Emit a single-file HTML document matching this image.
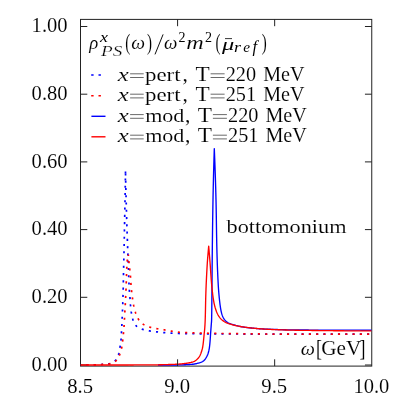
<!DOCTYPE html>
<html><head><meta charset="utf-8"><title>plot</title>
<style>
html,body{margin:0;padding:0;background:#fff;}
body{width:408px;height:408px;position:relative;overflow:hidden;font-family:"Liberation Serif",serif;}
</style></head><body>
<svg width="408" height="408" viewBox="0 0 408 408" style="position:absolute;left:0;top:0;will-change:transform">
<defs><clipPath id="c"><rect x="80.50" y="19.40" width="291.25" height="347.70"/></clipPath></defs>
<g stroke="#222" stroke-width="1" fill="none">
<rect x="80.50" y="19.40" width="291.25" height="346.70"/>
<path d="M80.50 365.00 h6.80"/>
</g>
<g fill="none" stroke-width="1.35" clip-path="url(#c)" stroke-linejoin="round">
<path d="M80.50 365.00 L81.20 365.00 L81.91 365.00 L82.61 365.00 L83.31 364.99 L84.02 364.99 L84.72 364.98 L85.42 364.98 L86.13 364.97 L86.83 364.96 L87.53 364.95 L88.24 364.94 L88.94 364.93 L89.64 364.92 L90.35 364.91 L91.05 364.90 L91.75 364.89 L92.45 364.87 L93.16 364.86 L93.86 364.85 L94.56 364.83 L95.26 364.82 L95.97 364.80 L96.67 364.78 L97.37 364.76 L98.07 364.72 L98.78 364.69 L99.48 364.65 L100.18 364.60 L100.88 364.56 L101.58 364.51 L102.28 364.45 L102.98 364.40 L103.69 364.35 L104.40 364.29 L105.12 364.24 L105.85 364.18 L106.56 364.11 L107.28 364.04 L107.98 363.96 L108.67 363.86 L109.34 363.76 L109.99 363.64 L110.63 363.49 L111.28 363.27 L111.93 362.97 L112.57 362.61 L113.20 362.21 L113.81 361.76 L114.40 361.28 L114.94 360.78 L115.44 360.28 L115.88 359.77 L116.27 359.27 L116.64 358.73 L116.98 358.14 L117.31 357.52 L117.63 356.87 L117.92 356.20 L118.19 355.51 L118.44 354.82 L118.66 354.13 L118.86 353.44 L119.03 352.77 L119.19 352.09 L119.33 351.41 L119.46 350.72 L119.58 350.03 L119.69 349.33 L119.80 348.63 L119.90 347.93 L120.00 347.23 L120.10 346.53 L120.20 345.83 L120.30 345.13 L120.40 344.44 L120.51 343.74 L120.61 343.04 L120.71 342.35 L120.80 341.65 L120.89 340.95 L120.97 340.25 L121.04 339.56 L121.10 338.86 L121.15 338.16 L121.20 337.46 L121.24 336.75 L121.28 336.05 L121.32 335.35 L121.35 334.65 L121.39 333.94 L121.42 333.24 L121.46 332.54 L121.49 331.84 L121.53 331.14 L121.57 330.43 L121.61 329.73 L121.65 329.03 L121.69 328.33 L121.73 327.63 L121.77 326.92 L121.81 326.22 L121.85 325.52 L121.88 324.82 L121.92 324.12 L121.95 323.41 L121.98 322.71 L122.01 322.01 L122.04 321.31 L122.07 320.60 L122.10 319.90 L122.12 319.20 L122.15 318.50 L122.18 317.79 L122.21 317.09 L122.24 316.39 L122.27 315.69 L122.30 314.98 L122.32 314.28 L122.35 313.58 L122.38 312.88 L122.41 312.17 L122.44 311.47 L122.47 310.77 L122.50 310.07 L122.53 309.36 L122.56 308.66 L122.59 307.96 L122.62 307.26 L122.65 306.55 L122.68 305.85 L122.72 305.15 L122.74 304.45 L122.77 303.74 L122.80 303.04 L122.82 302.34 L122.85 301.64 L122.87 300.93 L122.89 300.23 L122.92 299.53 L122.94 298.83 L122.96 298.12 L122.98 297.42 L123.00 296.72 L123.02 296.02 L123.04 295.31 L123.06 294.61 L123.08 293.91 L123.10 293.20 L123.11 292.50 L123.13 291.80 L123.15 291.10 L123.17 290.39 L123.18 289.69 L123.20 288.99 L123.22 288.28 L123.23 287.58 L123.25 286.88 L123.26 286.18 L123.28 285.47 L123.29 284.77 L123.31 284.07 L123.32 283.36 L123.33 282.66 L123.35 281.96 L123.36 281.25 L123.37 280.55 L123.39 279.85 L123.40 279.15 L123.41 278.44 L123.43 277.74 L123.44 277.04 L123.45 276.33 L123.47 275.63 L123.48 274.93 L123.50 274.23 L123.51 273.52 L123.53 272.82 L123.54 272.12 L123.56 271.41 L123.57 270.71 L123.59 270.01 L123.60 269.31 L123.62 268.60 L123.64 267.90 L123.65 267.20 L123.67 266.49 L123.69 265.79 L123.70 265.09 L123.72 264.39 L123.73 263.68 L123.75 262.98 L123.77 262.28 L123.78 261.57 L123.80 260.87 L123.82 260.17 L123.83 259.47 L123.85 258.76 L123.87 258.06 L123.88 257.36 L123.90 256.65 L123.91 255.95 L123.93 255.25 L123.95 254.55 L123.96 253.84 L123.98 253.14 L123.99 252.44 L124.01 251.73 L124.02 251.03 L124.03 250.33 L124.05 249.63 L124.06 248.92 L124.08 248.22 L124.09 247.52 L124.11 246.81 L124.12 246.11 L124.14 245.41 L124.15 244.70 L124.17 244.00 L124.18 243.30 L124.19 242.60 L124.21 241.89 L124.22 241.19 L124.24 240.49 L124.25 239.78 L124.27 239.08 L124.28 238.38 L124.30 237.68 L124.31 236.97 L124.32 236.27 L124.34 235.57 L124.35 234.86 L124.37 234.16 L124.38 233.46 L124.40 232.76 L124.41 232.05 L124.42 231.35 L124.44 230.65 L124.45 229.94 L124.47 229.24 L124.48 228.54 L124.49 227.84 L124.51 227.13 L124.52 226.43 L124.54 225.73 L124.55 225.02 L124.56 224.32 L124.58 223.62 L124.59 222.91 L124.60 222.21 L124.62 221.51 L124.63 220.81 L124.65 220.10 L124.66 219.40 L124.67 218.70 L124.69 217.99 L124.70 217.29 L124.71 216.59 L124.73 215.89 L124.74 215.18 L124.75 214.48 L124.77 213.78 L124.78 213.07 L124.79 212.37 L124.81 211.67 L124.82 210.97 L124.83 210.26 L124.85 209.56 L124.86 208.86 L124.87 208.15 L124.89 207.45 L124.90 206.75 L124.91 206.04 L124.93 205.34 L124.94 204.64 L124.95 203.94 L124.96 203.23 L124.98 202.53 L124.99 201.83 L125.00 201.12 L125.01 200.42 L125.03 199.72 L125.04 199.02 L125.05 198.31 L125.07 197.61 L125.08 196.91 L125.09 196.20 L125.10 195.50 L125.12 194.80 L125.13 194.09 L125.14 193.39 L125.15 192.69 L125.16 191.99 L125.18 191.28 L125.19 190.58 L125.20 189.88 L125.21 189.17 L125.23 188.47 L125.24 187.77 L125.25 187.07 L125.26 186.36 L125.27 185.66 L125.28 184.96 L125.30 184.25 L125.31 183.55 L125.32 182.85 L125.33 182.14 L125.34 181.44 L125.35 180.74 L125.37 180.04 L125.38 179.33 L125.39 178.63 L125.40 177.93 L125.41 177.22 L125.42 176.52 L125.43 175.82 L125.45 175.11 L125.46 174.41 L125.47 173.71 L125.48 173.01 L125.49 172.30 L125.50 171.60" stroke="#0000ff" stroke-width="1.7" stroke-dasharray="2.10 5.18" stroke-dashoffset="1.46"/>
<path d="M125.50 171.60 L125.51 172.30 L125.53 173.00 L125.54 173.71 L125.55 174.41 L125.57 175.11 L125.58 175.81 L125.59 176.52 L125.61 177.22 L125.62 177.92 L125.64 178.62 L125.65 179.32 L125.66 180.03 L125.68 180.73 L125.69 181.43 L125.71 182.13 L125.72 182.84 L125.74 183.54 L125.76 184.24 L125.77 184.94 L125.79 185.64 L125.80 186.35 L125.82 187.05 L125.84 187.75 L125.85 188.45 L125.87 189.16 L125.89 189.86 L125.90 190.56 L125.92 191.26 L125.94 191.96 L125.95 192.67 L125.97 193.37 L125.99 194.07 L126.01 194.77 L126.02 195.47 L126.04 196.18 L126.06 196.88 L126.08 197.58 L126.10 198.28 L126.12 198.99 L126.13 199.69 L126.15 200.39 L126.17 201.09 L126.19 201.79 L126.21 202.50 L126.23 203.20 L126.25 203.90 L126.27 204.60 L126.29 205.30 L126.31 206.01 L126.33 206.71 L126.35 207.41 L126.37 208.11 L126.39 208.81 L126.41 209.52 L126.43 210.22 L126.45 210.92 L126.47 211.62 L126.49 212.32 L126.51 213.03 L126.53 213.73 L126.55 214.43 L126.57 215.13 L126.59 215.83 L126.62 216.54 L126.64 217.24 L126.66 217.94 L126.68 218.64 L126.70 219.34 L126.72 220.05 L126.75 220.75 L126.77 221.45 L126.79 222.15 L126.81 222.85 L126.83 223.56 L126.86 224.26 L126.88 224.96 L126.90 225.66 L126.92 226.36 L126.95 227.07 L126.97 227.77 L126.99 228.47 L127.02 229.17 L127.04 229.87 L127.06 230.58 L127.08 231.28 L127.11 231.98 L127.13 232.68 L127.15 233.38 L127.18 234.09 L127.20 234.79 L127.22 235.49 L127.25 236.19 L127.27 236.89 L127.30 237.59 L127.32 238.30 L127.34 239.00 L127.37 239.70 L127.39 240.40 L127.42 241.10 L127.44 241.81 L127.46 242.51 L127.49 243.21 L127.51 243.91 L127.54 244.61 L127.56 245.32 L127.58 246.02 L127.61 246.72 L127.63 247.42 L127.66 248.12 L127.68 248.82 L127.71 249.53 L127.73 250.23 L127.76 250.93 L127.78 251.63 L127.81 252.33 L127.83 253.04 L127.86 253.74 L127.88 254.44 L127.91 255.14 L127.93 255.84 L127.96 256.54 L127.98 257.25 L128.01 257.95 L128.04 258.65 L128.07 259.35 L128.10 260.05 L128.13 260.76 L128.16 261.46 L128.19 262.16 L128.22 262.86 L128.25 263.56 L128.28 264.26 L128.31 264.97 L128.34 265.67 L128.37 266.37 L128.40 267.07 L128.43 267.77 L128.46 268.47 L128.49 269.18 L128.51 269.88 L128.54 270.58 L128.56 271.28 L128.59 271.98 L128.61 272.69 L128.63 273.39 L128.66 274.09 L128.68 274.79 L128.70 275.49 L128.72 276.20 L128.74 276.90 L128.76 277.60 L128.79 278.30 L128.81 279.00 L128.83 279.71 L128.86 280.41 L128.88 281.11 L128.91 281.81 L128.94 282.51 L128.97 283.21 L129.00 283.92 L129.03 284.62 L129.06 285.32 L129.10 286.02 L129.14 286.72 L129.17 287.42 L129.22 288.12 L129.26 288.83 L129.30 289.53 L129.35 290.23 L129.40 290.93 L129.45 291.63 L129.50 292.33 L129.56 293.03 L129.62 293.73 L129.69 294.43 L129.75 295.13 L129.81 295.83 L129.88 296.53 L129.94 297.23 L129.99 297.92 L130.05 298.63 L130.10 299.33 L130.15 300.03 L130.19 300.73 L130.24 301.43 L130.28 302.13 L130.33 302.83 L130.38 303.53 L130.44 304.23 L130.49 304.93 L130.56 305.63 L130.62 306.33 L130.68 307.03 L130.75 307.73 L130.82 308.43 L130.90 309.13 L130.98 309.83 L131.06 310.52 L131.15 311.22 L131.24 311.91 L131.35 312.61 L131.46 313.30 L131.57 314.00 L131.70 314.69 L131.84 315.39 L131.99 316.08 L132.14 316.77 L132.31 317.45 L132.49 318.13 L132.68 318.80 L132.88 319.46 L133.10 320.13 L133.34 320.82 L133.61 321.52 L133.89 322.21 L134.20 322.88 L134.53 323.53 L134.87 324.15 L135.24 324.73 L135.63 325.26 L136.03 325.73 L136.48 326.17 L137.00 326.58 L137.56 326.98 L138.17 327.36 L138.81 327.72 L139.48 328.05 L140.16 328.37 L140.84 328.65 L141.52 328.92 L142.18 329.16 L142.83 329.37 L143.49 329.58 L144.17 329.76 L144.85 329.94 L145.54 330.11 L146.23 330.26 L146.92 330.41 L147.62 330.54 L148.31 330.68 L149.00 330.80 L149.69 330.92 L150.38 331.04 L151.08 331.15 L151.77 331.25 L152.47 331.36 L153.17 331.45 L153.86 331.55 L154.56 331.64 L155.26 331.72 L155.96 331.80 L156.65 331.87 L157.35 331.95 L158.05 332.02 L158.75 332.09 L159.45 332.16 L160.15 332.23 L160.84 332.30 L161.54 332.37 L162.24 332.44 L162.94 332.50 L163.64 332.57 L164.34 332.63 L165.04 332.70 L165.74 332.76 L166.44 332.82 L167.14 332.88 L167.85 332.94 L168.55 332.99 L169.25 333.05 L169.95 333.10 L170.65 333.15 L171.35 333.19 L172.05 333.24 L172.75 333.28 L173.46 333.32 L174.16 333.35 L174.86 333.39 L175.56 333.42 L176.26 333.44 L176.96 333.46 L177.66 333.48 L178.36 333.50 L179.07 333.51 L179.77 333.53 L180.47 333.54 L181.17 333.55 L181.87 333.56 L182.57 333.58 L183.27 333.59 L183.98 333.60 L184.68 333.61 L185.38 333.62 L186.08 333.63 L186.78 333.64 L187.49 333.66 L188.19 333.67 L188.89 333.68 L189.59 333.69 L190.29 333.70 L190.99 333.71 L191.70 333.72 L192.40 333.73 L193.10 333.73 L193.80 333.74 L194.51 333.75 L195.21 333.76 L195.91 333.77 L196.61 333.78 L197.31 333.79 L198.02 333.79 L198.72 333.80 L199.42 333.81 L200.12 333.82 L200.83 333.82 L201.53 333.83 L202.23 333.84 L202.93 333.84 L203.64 333.85 L204.34 333.86 L205.04 333.86 L205.74 333.87 L206.45 333.88 L207.15 333.88 L207.85 333.89 L208.56 333.89 L209.26 333.90 L209.96 333.90 L210.66 333.91 L211.37 333.91 L212.07 333.92 L212.77 333.92 L213.47 333.93 L214.18 333.93 L214.88 333.94 L215.58 333.94 L216.28 333.94 L216.99 333.95 L217.69 333.95 L218.39 333.95 L219.09 333.96 L219.80 333.96 L220.50 333.97 L221.20 333.97 L221.90 333.97 L222.61 333.97 L223.31 333.98 L224.01 333.98 L224.71 333.98 L225.42 333.99 L226.12 333.99 L226.82 333.99 L227.52 333.99 L228.23 333.99 L228.93 334.00 L229.63 334.00 L230.33 334.00 L231.04 334.00 L231.74 334.00 L232.44 334.01 L233.14 334.01 L233.85 334.01 L234.55 334.01 L235.25 334.01 L235.95 334.02 L236.65 334.02 L237.36 334.02 L238.06 334.02 L238.76 334.02 L239.46 334.03 L240.17 334.03 L240.87 334.03 L241.57 334.03 L242.27 334.03 L242.98 334.03 L243.68 334.04 L244.38 334.04 L245.08 334.04 L245.78 334.04 L246.49 334.04 L247.19 334.05 L247.89 334.05 L248.59 334.05 L249.30 334.05 L250.00 334.05 L250.70 334.05 L251.40 334.06 L252.11 334.06 L252.81 334.06 L253.51 334.06 L254.21 334.06 L254.91 334.06 L255.62 334.07 L256.32 334.07 L257.02 334.07 L257.72 334.07 L258.43 334.07 L259.13 334.07 L259.83 334.07 L260.53 334.08 L261.24 334.08 L261.94 334.08 L262.64 334.08 L263.34 334.08 L264.04 334.08 L264.75 334.09 L265.45 334.09 L266.15 334.09 L266.85 334.09 L267.56 334.09 L268.26 334.09 L268.96 334.09 L269.66 334.10 L270.37 334.10 L271.07 334.10 L271.77 334.10 L272.47 334.10 L273.17 334.10 L273.88 334.10 L274.58 334.11 L275.28 334.11 L275.98 334.11 L276.69 334.11 L277.39 334.11 L278.09 334.11 L278.79 334.11 L279.50 334.11 L280.20 334.12 L280.90 334.12 L281.60 334.12 L282.30 334.12 L283.01 334.12 L283.71 334.12 L284.41 334.12 L285.11 334.12 L285.82 334.13 L286.52 334.13 L287.22 334.13 L287.92 334.13 L288.63 334.13 L289.33 334.13 L290.03 334.13 L290.73 334.13 L291.43 334.14 L292.14 334.14 L292.84 334.14 L293.54 334.14 L294.24 334.14 L294.95 334.14 L295.65 334.14 L296.35 334.14 L297.05 334.14 L297.76 334.14 L298.46 334.15 L299.16 334.15 L299.86 334.15 L300.56 334.15 L301.27 334.15 L301.97 334.15 L302.67 334.15 L303.37 334.15 L304.08 334.15 L304.78 334.15 L305.48 334.16 L306.18 334.16 L306.89 334.16 L307.59 334.16 L308.29 334.16 L308.99 334.16 L309.69 334.16 L310.40 334.16 L311.10 334.16 L311.80 334.16 L312.50 334.16 L313.21 334.17 L313.91 334.17 L314.61 334.17 L315.31 334.17 L316.02 334.17 L316.72 334.17 L317.42 334.17 L318.12 334.17 L318.83 334.17 L319.53 334.17 L320.23 334.17 L320.93 334.17 L321.63 334.17 L322.34 334.18 L323.04 334.18 L323.74 334.18 L324.44 334.18 L325.15 334.18 L325.85 334.18 L326.55 334.18 L327.25 334.18 L327.96 334.18 L328.66 334.18 L329.36 334.18 L330.06 334.18 L330.76 334.18 L331.47 334.18 L332.17 334.18 L332.87 334.18 L333.57 334.19 L334.28 334.19 L334.98 334.19 L335.68 334.19 L336.38 334.19 L337.09 334.19 L337.79 334.19 L338.49 334.19 L339.19 334.19 L339.89 334.19 L340.60 334.19 L341.30 334.19 L342.00 334.19 L342.70 334.19 L343.41 334.19 L344.11 334.19 L344.81 334.19 L345.51 334.19 L346.22 334.19 L346.92 334.19 L347.62 334.19 L348.32 334.19 L349.03 334.19 L349.73 334.20 L350.43 334.20 L351.13 334.20 L351.83 334.20 L352.54 334.20 L353.24 334.20 L353.94 334.20 L354.64 334.20 L355.35 334.20 L356.05 334.20 L356.75 334.20 L357.45 334.20 L358.16 334.20 L358.86 334.20 L359.56 334.20 L360.26 334.20 L360.96 334.20 L361.67 334.20 L362.37 334.20 L363.07 334.20 L363.77 334.20 L364.48 334.20 L365.18 334.20 L365.88 334.20 L366.58 334.20 L367.29 334.20 L367.99 334.20 L368.69 334.20 L369.39 334.20 L370.10 334.20 L370.80 334.20 L371.50 334.20" stroke="#0000ff" stroke-width="1.7" stroke-dasharray="2.10 5.18" stroke-dashoffset="5.54"/>
<path d="M80.50 365.00 L81.21 365.00 L81.91 365.00 L82.62 365.00 L83.33 364.99 L84.04 364.99 L84.74 364.98 L85.45 364.98 L86.16 364.97 L86.86 364.96 L87.57 364.95 L88.28 364.94 L88.98 364.93 L89.69 364.92 L90.40 364.91 L91.10 364.90 L91.81 364.89 L92.51 364.87 L93.22 364.86 L93.93 364.85 L94.63 364.83 L95.34 364.81 L96.05 364.80 L96.75 364.78 L97.46 364.75 L98.16 364.72 L98.87 364.68 L99.57 364.64 L100.28 364.59 L100.99 364.54 L101.69 364.49 L102.40 364.44 L103.10 364.39 L103.81 364.34 L104.52 364.29 L105.24 364.24 L105.96 364.19 L106.67 364.13 L107.38 364.06 L108.09 363.99 L108.78 363.91 L109.47 363.82 L110.14 363.71 L110.81 363.57 L111.49 363.37 L112.18 363.12 L112.87 362.82 L113.55 362.49 L114.20 362.12 L114.83 361.72 L115.42 361.30 L115.97 360.87 L116.46 360.44 L116.89 359.99 L117.30 359.49 L117.68 358.94 L118.04 358.34 L118.39 357.70 L118.71 357.03 L119.02 356.35 L119.30 355.66 L119.57 354.96 L119.83 354.28 L120.06 353.62 L120.29 352.96 L120.50 352.29 L120.71 351.61 L120.90 350.93 L121.09 350.24 L121.26 349.55 L121.42 348.86 L121.57 348.17 L121.71 347.47 L121.84 346.78 L121.96 346.09 L122.07 345.39 L122.17 344.69 L122.27 343.99 L122.36 343.29 L122.45 342.59 L122.53 341.89 L122.62 341.18 L122.70 340.48 L122.78 339.78 L122.86 339.07 L122.94 338.37 L123.02 337.67 L123.09 336.97 L123.16 336.26 L123.24 335.56 L123.30 334.86 L123.37 334.15 L123.44 333.45 L123.50 332.75 L123.57 332.04 L123.63 331.34 L123.70 330.64 L123.76 329.93 L123.82 329.23 L123.88 328.52 L123.94 327.82 L123.99 327.11 L124.04 326.41 L124.09 325.70 L124.14 325.00 L124.18 324.29 L124.22 323.59 L124.26 322.88 L124.30 322.18 L124.34 321.47 L124.37 320.77 L124.41 320.06 L124.45 319.35 L124.49 318.65 L124.53 317.94 L124.56 317.24 L124.60 316.53 L124.64 315.83 L124.68 315.12 L124.72 314.42 L124.76 313.71 L124.80 313.00 L124.84 312.30 L124.88 311.59 L124.92 310.89 L124.96 310.18 L125.00 309.48 L125.04 308.77 L125.08 308.07 L125.12 307.36 L125.16 306.65 L125.19 305.95 L125.23 305.24 L125.27 304.54 L125.31 303.83 L125.35 303.13 L125.38 302.42 L125.42 301.71 L125.46 301.01 L125.50 300.30 L125.53 299.60 L125.57 298.89 L125.61 298.19 L125.65 297.48 L125.68 296.77 L125.72 296.07 L125.75 295.36 L125.79 294.66 L125.82 293.95 L125.86 293.25 L125.89 292.54 L125.92 291.83 L125.95 291.13 L125.98 290.42 L126.01 289.72 L126.04 289.01 L126.07 288.30 L126.09 287.60 L126.12 286.89 L126.14 286.18 L126.16 285.48 L126.19 284.77 L126.21 284.07 L126.23 283.36 L126.25 282.65 L126.28 281.95 L126.30 281.24 L126.32 280.53 L126.34 279.83 L126.37 279.12 L126.39 278.42 L126.42 277.71 L126.44 277.00 L126.47 276.30 L126.50 275.59 L126.52 274.88 L126.55 274.18 L126.58 273.47 L126.60 272.76 L126.63 272.06 L126.66 271.35 L126.68 270.64 L126.71 269.93 L126.74 269.23 L126.77 268.52 L126.80 267.81 L126.83 267.11 L126.86 266.40 L126.90 265.69 L126.93 264.99 L126.97 264.28 L127.02 263.58 L127.06 262.87 L127.11 262.17 L127.16 261.47 L127.22 260.77 L127.29 260.07 L127.38 259.37 L127.49 258.67 L127.61 257.98 L127.73 257.28 L127.87 256.58 L128.01 255.89 L128.16 255.19 L128.30 254.50" stroke="#ff0000" stroke-width="1.7" stroke-dasharray="2.10 5.18" stroke-dashoffset="1.18"/>
<path d="M128.30 254.50 L128.35 255.20 L128.41 255.90 L128.46 256.60 L128.52 257.30 L128.58 258.00 L128.64 258.70 L128.70 259.40 L128.77 260.10 L128.83 260.80 L128.90 261.50 L128.96 262.20 L129.03 262.90 L129.10 263.60 L129.17 264.30 L129.25 265.00 L129.33 265.70 L129.40 266.39 L129.48 267.09 L129.56 267.79 L129.64 268.49 L129.71 269.19 L129.79 269.89 L129.86 270.58 L129.94 271.28 L130.01 271.98 L130.09 272.68 L130.16 273.38 L130.23 274.08 L130.30 274.78 L130.37 275.48 L130.43 276.18 L130.49 276.88 L130.54 277.58 L130.59 278.28 L130.64 278.98 L130.68 279.68 L130.72 280.38 L130.76 281.08 L130.80 281.79 L130.84 282.49 L130.88 283.19 L130.92 283.89 L130.97 284.59 L131.02 285.29 L131.08 285.99 L131.14 286.69 L131.20 287.39 L131.26 288.09 L131.33 288.79 L131.40 289.49 L131.47 290.19 L131.55 290.89 L131.62 291.59 L131.70 292.29 L131.78 292.98 L131.86 293.68 L131.95 294.38 L132.04 295.08 L132.13 295.77 L132.23 296.47 L132.33 297.16 L132.43 297.86 L132.53 298.56 L132.64 299.25 L132.74 299.94 L132.85 300.64 L132.96 301.33 L133.07 302.03 L133.19 302.72 L133.31 303.42 L133.43 304.11 L133.56 304.80 L133.69 305.49 L133.84 306.17 L133.98 306.86 L134.14 307.55 L134.30 308.23 L134.47 308.92 L134.65 309.60 L134.83 310.28 L135.02 310.96 L135.23 311.63 L135.44 312.30 L135.65 312.96 L135.88 313.63 L136.12 314.30 L136.37 314.97 L136.64 315.63 L136.92 316.30 L137.21 316.95 L137.51 317.59 L137.83 318.21 L138.17 318.81 L138.53 319.38 L138.90 319.94 L139.32 320.50 L139.77 321.05 L140.24 321.59 L140.75 322.11 L141.27 322.62 L141.81 323.10 L142.36 323.55 L142.93 323.98 L143.49 324.37 L144.06 324.72 L144.66 325.06 L145.28 325.38 L145.91 325.69 L146.56 325.99 L147.23 326.27 L147.90 326.52 L148.57 326.76 L149.25 326.98 L149.92 327.18 L150.58 327.36 L151.25 327.53 L151.93 327.69 L152.61 327.84 L153.29 327.99 L153.98 328.13 L154.67 328.26 L155.36 328.39 L156.05 328.51 L156.75 328.63 L157.44 328.75 L158.14 328.86 L158.84 328.98 L159.54 329.08 L160.24 329.19 L160.94 329.30 L161.64 329.41 L162.34 329.52 L163.04 329.63 L163.73 329.74 L164.43 329.85 L165.12 329.97 L165.81 330.09 L166.50 330.22 L167.20 330.35 L167.89 330.48 L168.58 330.61 L169.27 330.75 L169.97 330.88 L170.66 331.01 L171.35 331.14 L172.05 331.27 L172.74 331.40 L173.44 331.52 L174.13 331.63 L174.82 331.74 L175.52 331.85 L176.21 331.94 L176.91 332.03 L177.61 332.11 L178.30 332.18 L179.00 332.24 L179.70 332.28 L180.39 332.32 L181.09 332.35 L181.79 332.39 L182.49 332.42 L183.19 332.46 L183.88 332.49 L184.58 332.52 L185.28 332.55 L185.98 332.58 L186.68 332.61 L187.38 332.64 L188.08 332.67 L188.78 332.69 L189.48 332.72 L190.18 332.75 L190.89 332.77 L191.59 332.80 L192.29 332.82 L192.99 332.85 L193.69 332.87 L194.39 332.89 L195.10 332.91 L195.80 332.94 L196.50 332.96 L197.20 332.98 L197.90 333.00 L198.61 333.02 L199.31 333.04 L200.01 333.06 L200.72 333.07 L201.42 333.09 L202.12 333.11 L202.83 333.13 L203.53 333.14 L204.23 333.16 L204.94 333.18 L205.64 333.19 L206.34 333.21 L207.05 333.22 L207.75 333.24 L208.46 333.25 L209.16 333.27 L209.86 333.28 L210.57 333.29 L211.27 333.31 L211.98 333.32 L212.68 333.33 L213.38 333.35 L214.09 333.36 L214.79 333.37 L215.50 333.38 L216.20 333.39 L216.90 333.41 L217.61 333.42 L218.31 333.43 L219.02 333.44 L219.72 333.45 L220.42 333.46 L221.13 333.47 L221.83 333.48 L222.53 333.49 L223.24 333.50 L223.94 333.51 L224.64 333.52 L225.35 333.53 L226.05 333.54 L226.75 333.55 L227.46 333.56 L228.16 333.57 L228.86 333.58 L229.57 333.59 L230.27 333.60 L230.97 333.61 L231.67 333.62 L232.38 333.63 L233.08 333.64 L233.78 333.65 L234.48 333.66 L235.19 333.67 L235.89 333.68 L236.59 333.69 L237.29 333.70 L238.00 333.71 L238.70 333.72 L239.40 333.73 L240.10 333.74 L240.81 333.75 L241.51 333.76 L242.21 333.77 L242.91 333.78 L243.62 333.79 L244.32 333.80 L245.02 333.81 L245.72 333.82 L246.43 333.83 L247.13 333.83 L247.83 333.84 L248.54 333.85 L249.24 333.86 L249.94 333.87 L250.64 333.88 L251.35 333.89 L252.05 333.89 L252.75 333.90 L253.45 333.91 L254.16 333.92 L254.86 333.93 L255.56 333.93 L256.26 333.94 L256.97 333.95 L257.67 333.95 L258.37 333.96 L259.07 333.97 L259.78 333.98 L260.48 333.98 L261.18 333.99 L261.89 334.00 L262.59 334.00 L263.29 334.01 L263.99 334.01 L264.70 334.02 L265.40 334.02 L266.10 334.03 L266.80 334.04 L267.51 334.04 L268.21 334.05 L268.91 334.05 L269.61 334.05 L270.32 334.06 L271.02 334.06 L271.72 334.07 L272.43 334.07 L273.13 334.08 L273.83 334.08 L274.53 334.08 L275.24 334.08 L275.94 334.09 L276.64 334.09 L277.34 334.09 L278.05 334.09 L278.75 334.10 L279.45 334.10 L280.15 334.10 L280.86 334.10 L281.56 334.10 L282.26 334.10 L282.96 334.11 L283.67 334.11 L284.37 334.11 L285.07 334.11 L285.78 334.11 L286.48 334.11 L287.18 334.11 L287.88 334.12 L288.59 334.12 L289.29 334.12 L289.99 334.12 L290.69 334.12 L291.40 334.12 L292.10 334.12 L292.80 334.13 L293.50 334.13 L294.21 334.13 L294.91 334.13 L295.61 334.13 L296.32 334.13 L297.02 334.13 L297.72 334.13 L298.42 334.14 L299.13 334.14 L299.83 334.14 L300.53 334.14 L301.23 334.14 L301.94 334.14 L302.64 334.14 L303.34 334.14 L304.04 334.15 L304.75 334.15 L305.45 334.15 L306.15 334.15 L306.85 334.15 L307.56 334.15 L308.26 334.15 L308.96 334.15 L309.67 334.15 L310.37 334.15 L311.07 334.16 L311.77 334.16 L312.48 334.16 L313.18 334.16 L313.88 334.16 L314.58 334.16 L315.29 334.16 L315.99 334.16 L316.69 334.16 L317.39 334.16 L318.10 334.17 L318.80 334.17 L319.50 334.17 L320.21 334.17 L320.91 334.17 L321.61 334.17 L322.31 334.17 L323.02 334.17 L323.72 334.17 L324.42 334.17 L325.12 334.17 L325.83 334.17 L326.53 334.18 L327.23 334.18 L327.93 334.18 L328.64 334.18 L329.34 334.18 L330.04 334.18 L330.75 334.18 L331.45 334.18 L332.15 334.18 L332.85 334.18 L333.56 334.18 L334.26 334.18 L334.96 334.18 L335.66 334.18 L336.37 334.18 L337.07 334.19 L337.77 334.19 L338.47 334.19 L339.18 334.19 L339.88 334.19 L340.58 334.19 L341.29 334.19 L341.99 334.19 L342.69 334.19 L343.39 334.19 L344.10 334.19 L344.80 334.19 L345.50 334.19 L346.20 334.19 L346.91 334.19 L347.61 334.19 L348.31 334.19 L349.01 334.19 L349.72 334.19 L350.42 334.19 L351.12 334.19 L351.83 334.20 L352.53 334.20 L353.23 334.20 L353.93 334.20 L354.64 334.20 L355.34 334.20 L356.04 334.20 L356.74 334.20 L357.45 334.20 L358.15 334.20 L358.85 334.20 L359.55 334.20 L360.26 334.20 L360.96 334.20 L361.66 334.20 L362.37 334.20 L363.07 334.20 L363.77 334.20 L364.47 334.20 L365.18 334.20 L365.88 334.20 L366.58 334.20 L367.28 334.20 L367.99 334.20 L368.69 334.20 L369.39 334.20 L370.09 334.20 L370.80 334.20 L371.50 334.20" stroke="#ff0000" stroke-width="1.7" stroke-dasharray="2.10 5.18" stroke-dashoffset="0.60"/>
<path d="M158.00 365.00 L158.70 365.02 L159.41 365.03 L160.11 365.04 L160.81 365.05 L161.51 365.06 L162.22 365.07 L162.92 365.08 L163.62 365.08 L164.33 365.09 L165.03 365.09 L165.73 365.09 L166.43 365.10 L167.14 365.10 L167.84 365.10 L168.54 365.10 L169.24 365.10 L169.95 365.10 L170.65 365.10 L171.35 365.09 L172.06 365.09 L172.76 365.08 L173.46 365.07 L174.16 365.05 L174.87 365.04 L175.57 365.02 L176.27 365.00 L176.97 364.99 L177.68 364.97 L178.38 364.95 L179.08 364.93 L179.78 364.91 L180.49 364.89 L181.19 364.87 L181.89 364.84 L182.60 364.82 L183.30 364.80 L184.01 364.77 L184.71 364.75 L185.41 364.72 L186.12 364.69 L186.82 364.65 L187.52 364.62 L188.23 364.58 L188.93 364.54 L189.63 364.50 L190.33 364.45 L191.03 364.40 L191.72 364.35 L192.42 364.29 L193.11 364.22 L193.81 364.12 L194.51 364.00 L195.20 363.87 L195.90 363.72 L196.59 363.57 L197.27 363.40 L197.95 363.22 L198.62 363.04 L199.30 362.84 L200.00 362.62 L200.69 362.38 L201.36 362.12 L202.01 361.83 L202.63 361.51 L203.19 361.17 L203.71 360.79 L204.21 360.32 L204.68 359.78 L205.13 359.21 L205.55 358.60 L205.94 357.99 L206.31 357.39 L206.65 356.79 L206.97 356.16 L207.28 355.52 L207.56 354.87 L207.83 354.21 L208.06 353.55 L208.26 352.88 L208.45 352.21 L208.63 351.53 L208.79 350.85 L208.95 350.16 L209.09 349.46 L209.22 348.77 L209.33 348.07 L209.43 347.38 L209.52 346.69 L209.61 345.99 L209.69 345.29 L209.76 344.59 L209.83 343.89 L209.90 343.19 L209.96 342.49 L210.02 341.79 L210.08 341.09 L210.13 340.39 L210.19 339.69 L210.24 338.98 L210.29 338.28 L210.33 337.58 L210.38 336.88 L210.42 336.18 L210.47 335.48 L210.51 334.78 L210.56 334.08 L210.61 333.37 L210.66 332.67 L210.71 331.97 L210.76 331.27 L210.82 330.57 L210.87 329.87 L210.93 329.17 L210.98 328.47 L211.03 327.77 L211.09 327.07 L211.14 326.37 L211.19 325.67 L211.25 324.96 L211.30 324.26 L211.36 323.56 L211.42 322.86 L211.48 322.16 L211.53 321.46 L211.57 320.76 L211.60 320.06 L211.62 319.36 L211.63 318.65 L211.65 317.95 L211.66 317.25 L211.67 316.55 L211.69 315.85 L211.70 315.14 L211.71 314.44 L211.72 313.74 L211.73 313.04 L211.74 312.33 L211.75 311.63 L211.76 310.93 L211.77 310.22 L211.77 309.52 L211.78 308.82 L211.79 308.12 L211.79 307.41 L211.80 306.71 L211.81 306.01 L211.81 305.30 L211.82 304.60 L211.82 303.90 L211.83 303.19 L211.84 302.49 L211.84 301.79 L211.85 301.09 L211.85 300.38 L211.86 299.68 L211.86 298.98 L211.87 298.27 L211.88 297.57 L211.88 296.87 L211.89 296.16 L211.90 295.46 L211.90 294.76 L211.91 294.06 L211.92 293.35 L211.92 292.65 L211.93 291.95 L211.94 291.25 L211.94 290.54 L211.95 289.84 L211.96 289.14 L211.96 288.43 L211.97 287.73 L211.98 287.03 L211.98 286.33 L211.99 285.62 L212.00 284.92 L212.00 284.22 L212.01 283.51 L212.01 282.81 L212.02 282.11 L212.03 281.41 L212.03 280.70 L212.04 280.00 L212.04 279.30 L212.05 278.60 L212.05 277.89 L212.06 277.19 L212.07 276.49 L212.07 275.78 L212.08 275.08 L212.08 274.38 L212.09 273.68 L212.09 272.97 L212.10 272.27 L212.10 271.57 L212.11 270.86 L212.12 270.16 L212.12 269.46 L212.13 268.76 L212.13 268.05 L212.14 267.35 L212.14 266.65 L212.15 265.95 L212.16 265.24 L212.16 264.54 L212.17 263.84 L212.17 263.13 L212.18 262.43 L212.19 261.73 L212.19 261.03 L212.20 260.32 L212.21 259.62 L212.21 258.92 L212.22 258.21 L212.22 257.51 L212.23 256.81 L212.24 256.11 L212.24 255.40 L212.25 254.70 L212.26 254.00 L212.27 253.30 L212.27 252.59 L212.28 251.89 L212.29 251.19 L212.29 250.48 L212.30 249.78 L212.31 249.08 L212.32 248.38 L212.33 247.67 L212.33 246.97 L212.34 246.27 L212.35 245.57 L212.36 244.86 L212.36 244.16 L212.37 243.46 L212.38 242.75 L212.39 242.05 L212.40 241.35 L212.41 240.65 L212.41 239.94 L212.42 239.24 L212.43 238.54 L212.44 237.83 L212.45 237.13 L212.46 236.43 L212.47 235.73 L212.47 235.02 L212.48 234.32 L212.49 233.62 L212.50 232.92 L212.51 232.21 L212.52 231.51 L212.53 230.81 L212.54 230.10 L212.55 229.40 L212.56 228.70 L212.56 228.00 L212.57 227.29 L212.58 226.59 L212.59 225.89 L212.60 225.19 L212.61 224.48 L212.62 223.78 L212.63 223.08 L212.64 222.37 L212.65 221.67 L212.66 220.97 L212.67 220.27 L212.68 219.56 L212.69 218.86 L212.70 218.16 L212.71 217.46 L212.72 216.75 L212.73 216.05 L212.75 215.35 L212.76 214.64 L212.77 213.94 L212.78 213.24 L212.79 212.54 L212.80 211.83 L212.81 211.13 L212.82 210.43 L212.83 209.73 L212.85 209.02 L212.86 208.32 L212.87 207.62 L212.88 206.91 L212.89 206.21 L212.90 205.51 L212.92 204.81 L212.93 204.10 L212.94 203.40 L212.95 202.70 L212.96 202.00 L212.98 201.29 L212.99 200.59 L213.00 199.89 L213.01 199.19 L213.03 198.48 L213.04 197.78 L213.05 197.08 L213.07 196.37 L213.08 195.67 L213.09 194.97 L213.11 194.27 L213.12 193.56 L213.14 192.86 L213.15 192.16 L213.17 191.46 L213.18 190.75 L213.20 190.05 L213.21 189.35 L213.23 188.65 L213.24 187.94 L213.26 187.24 L213.27 186.54 L213.29 185.84 L213.30 185.13 L213.32 184.43 L213.34 183.73 L213.35 183.02 L213.37 182.32 L213.39 181.62 L213.40 180.92 L213.42 180.21 L213.44 179.51 L213.45 178.81 L213.47 178.11 L213.49 177.40 L213.51 176.70 L213.52 176.00 L213.54 175.30 L213.56 174.59 L213.58 173.89 L213.60 173.19 L213.61 172.49 L213.63 171.78 L213.65 171.08 L213.67 170.38 L213.69 169.68 L213.71 168.97 L213.73 168.27 L213.74 167.57 L213.76 166.87 L213.78 166.16 L213.80 165.46 L213.82 164.76 L213.84 164.06 L213.86 163.35 L213.88 162.65 L213.90 161.95 L213.92 161.25 L213.94 160.54 L213.96 159.84 L213.98 159.14 L214.00 158.44 L214.02 157.73 L214.04 157.03 L214.07 156.33 L214.09 155.63 L214.11 154.92 L214.13 154.22 L214.15 153.52 L214.17 152.82 L214.19 152.11 L214.21 151.41 L214.23 150.71 L214.26 150.00 L214.28 149.30 L214.30 148.60 L214.33 149.30 L214.36 150.00 L214.39 150.70 L214.41 151.41 L214.44 152.11 L214.47 152.81 L214.50 153.51 L214.53 154.21 L214.55 154.91 L214.58 155.62 L214.61 156.32 L214.63 157.02 L214.66 157.72 L214.69 158.42 L214.72 159.12 L214.74 159.82 L214.77 160.53 L214.80 161.23 L214.82 161.93 L214.85 162.63 L214.87 163.33 L214.90 164.03 L214.93 164.74 L214.95 165.44 L214.98 166.14 L215.00 166.84 L215.03 167.54 L215.05 168.24 L215.08 168.94 L215.10 169.65 L215.13 170.35 L215.15 171.05 L215.18 171.75 L215.20 172.45 L215.22 173.15 L215.25 173.86 L215.27 174.56 L215.29 175.26 L215.32 175.96 L215.34 176.66 L215.36 177.36 L215.39 178.07 L215.41 178.77 L215.43 179.47 L215.45 180.17 L215.48 180.87 L215.50 181.57 L215.52 182.28 L215.54 182.98 L215.56 183.68 L215.58 184.38 L215.60 185.08 L215.62 185.78 L215.64 186.49 L215.67 187.19 L215.69 187.89 L215.71 188.59 L215.73 189.29 L215.74 189.99 L215.76 190.70 L215.78 191.40 L215.80 192.10 L215.82 192.80 L215.84 193.50 L215.86 194.21 L215.88 194.91 L215.89 195.61 L215.91 196.31 L215.93 197.01 L215.95 197.71 L215.96 198.42 L215.98 199.12 L216.00 199.82 L216.01 200.52 L216.03 201.22 L216.04 201.92 L216.06 202.63 L216.07 203.33 L216.09 204.03 L216.10 204.73 L216.12 205.43 L216.13 206.14 L216.14 206.84 L216.16 207.54 L216.17 208.24 L216.18 208.94 L216.20 209.65 L216.21 210.35 L216.22 211.05 L216.23 211.75 L216.24 212.45 L216.26 213.15 L216.27 213.86 L216.28 214.56 L216.29 215.26 L216.30 215.96 L216.31 216.66 L216.32 217.37 L216.33 218.07 L216.35 218.77 L216.36 219.47 L216.37 220.17 L216.38 220.88 L216.39 221.58 L216.40 222.28 L216.41 222.98 L216.42 223.68 L216.43 224.39 L216.44 225.09 L216.45 225.79 L216.46 226.49 L216.47 227.19 L216.48 227.90 L216.49 228.60 L216.50 229.30 L216.51 230.00 L216.53 230.70 L216.54 231.41 L216.55 232.11 L216.56 232.81 L216.57 233.51 L216.58 234.21 L216.59 234.92 L216.61 235.62 L216.62 236.32 L216.63 237.02 L216.64 237.72 L216.65 238.43 L216.67 239.13 L216.68 239.83 L216.69 240.53 L216.71 241.23 L216.72 241.93 L216.73 242.64 L216.75 243.34 L216.76 244.04 L216.78 244.74 L216.79 245.44 L216.81 246.15 L216.82 246.85 L216.84 247.55 L216.86 248.25 L216.87 248.95 L216.89 249.65 L216.91 250.36 L216.93 251.06 L216.94 251.76 L216.96 252.46 L216.98 253.16 L217.00 253.86 L217.02 254.57 L217.04 255.27 L217.06 255.97 L217.08 256.67 L217.10 257.37 L217.12 258.08 L217.14 258.78 L217.17 259.48 L217.19 260.18 L217.21 260.88 L217.23 261.59 L217.26 262.29 L217.28 262.99 L217.30 263.69 L217.33 264.39 L217.35 265.09 L217.38 265.80 L217.41 266.50 L217.43 267.20 L217.46 267.90 L217.48 268.60 L217.51 269.30 L217.54 270.01 L217.57 270.71 L217.60 271.41 L217.63 272.11 L217.66 272.81 L217.69 273.51 L217.72 274.22 L217.75 274.92 L217.78 275.62 L217.81 276.32 L217.85 277.02 L217.88 277.72 L217.91 278.42 L217.95 279.12 L217.98 279.82 L218.02 280.53 L218.05 281.23 L218.09 281.93 L218.13 282.63 L218.16 283.33 L218.20 284.03 L218.24 284.73 L218.28 285.43 L218.32 286.13 L218.37 286.83 L218.41 287.53 L218.46 288.23 L218.51 288.93 L218.56 289.63 L218.61 290.33 L218.67 291.04 L218.72 291.74 L218.78 292.44 L218.84 293.14 L218.90 293.84 L218.96 294.54 L219.02 295.24 L219.09 295.94 L219.16 296.63 L219.22 297.33 L219.29 298.03 L219.37 298.73 L219.44 299.43 L219.51 300.12 L219.59 300.82 L219.67 301.52 L219.75 302.21 L219.83 302.91 L219.91 303.61 L220.00 304.31 L220.09 305.01 L220.19 305.71 L220.29 306.41 L220.40 307.11 L220.51 307.81 L220.62 308.50 L220.74 309.20 L220.87 309.89 L221.01 310.57 L221.15 311.26 L221.30 311.94 L221.45 312.61 L221.62 313.28 L221.82 313.97 L222.03 314.65 L222.27 315.33 L222.53 316.00 L222.81 316.66 L223.10 317.30 L223.42 317.91 L223.75 318.48 L224.12 319.05 L224.54 319.62 L225.00 320.18 L225.50 320.72 L226.02 321.24 L226.57 321.72 L227.13 322.17 L227.69 322.56 L228.26 322.89 L228.85 323.19 L229.47 323.47 L230.12 323.73 L230.78 323.97 L231.46 324.20 L232.15 324.41 L232.85 324.61 L233.54 324.81 L234.23 325.00 L234.92 325.18 L235.59 325.36 L236.27 325.53 L236.95 325.71 L237.63 325.88 L238.32 326.04 L239.00 326.20 L239.69 326.36 L240.38 326.51 L241.07 326.65 L241.76 326.78 L242.45 326.91 L243.14 327.03 L243.84 327.14 L244.53 327.24 L245.22 327.33 L245.92 327.41 L246.61 327.50 L247.30 327.58 L248.00 327.66 L248.70 327.74 L249.39 327.82 L250.09 327.89 L250.79 327.97 L251.49 328.04 L252.18 328.11 L252.88 328.17 L253.58 328.24 L254.28 328.31 L254.98 328.37 L255.68 328.43 L256.39 328.49 L257.09 328.55 L257.79 328.60 L258.49 328.65 L259.19 328.71 L259.89 328.76 L260.60 328.80 L261.30 328.85 L262.00 328.90 L262.70 328.94 L263.40 328.98 L264.11 329.02 L264.81 329.05 L265.51 329.09 L266.21 329.12 L266.91 329.15 L267.61 329.18 L268.31 329.21 L269.01 329.24 L269.71 329.27 L270.42 329.29 L271.12 329.32 L271.82 329.35 L272.52 329.37 L273.22 329.40 L273.92 329.42 L274.62 329.45 L275.32 329.47 L276.03 329.50 L276.73 329.52 L277.43 329.54 L278.13 329.56 L278.83 329.59 L279.53 329.61 L280.24 329.63 L280.94 329.65 L281.64 329.67 L282.34 329.69 L283.04 329.71 L283.75 329.73 L284.45 329.75 L285.15 329.77 L285.85 329.78 L286.55 329.80 L287.26 329.82 L287.96 329.83 L288.66 329.85 L289.36 329.86 L290.07 329.87 L290.77 329.89 L291.47 329.90 L292.17 329.91 L292.87 329.92 L293.58 329.93 L294.28 329.94 L294.98 329.95 L295.68 329.96 L296.38 329.97 L297.09 329.98 L297.79 329.98 L298.49 329.99 L299.19 329.99 L299.89 330.00 L300.60 330.00 L301.30 330.01 L302.00 330.01 L302.70 330.01 L303.40 330.02 L304.11 330.02 L304.81 330.03 L305.51 330.03 L306.21 330.03 L306.91 330.04 L307.62 330.04 L308.32 330.04 L309.02 330.05 L309.72 330.05 L310.42 330.05 L311.13 330.06 L311.83 330.06 L312.53 330.06 L313.23 330.07 L313.93 330.07 L314.63 330.07 L315.34 330.08 L316.04 330.08 L316.74 330.08 L317.44 330.09 L318.14 330.09 L318.85 330.09 L319.55 330.09 L320.25 330.10 L320.95 330.10 L321.65 330.10 L322.36 330.11 L323.06 330.11 L323.76 330.11 L324.46 330.11 L325.16 330.12 L325.87 330.12 L326.57 330.12 L327.27 330.12 L327.97 330.13 L328.67 330.13 L329.38 330.13 L330.08 330.13 L330.78 330.14 L331.48 330.14 L332.18 330.14 L332.89 330.14 L333.59 330.14 L334.29 330.15 L334.99 330.15 L335.69 330.15 L336.40 330.15 L337.10 330.15 L337.80 330.16 L338.50 330.16 L339.20 330.16 L339.91 330.16 L340.61 330.16 L341.31 330.16 L342.01 330.17 L342.71 330.17 L343.42 330.17 L344.12 330.17 L344.82 330.17 L345.52 330.17 L346.22 330.18 L346.93 330.18 L347.63 330.18 L348.33 330.18 L349.03 330.18 L349.73 330.18 L350.44 330.18 L351.14 330.18 L351.84 330.18 L352.54 330.19 L353.24 330.19 L353.95 330.19 L354.65 330.19 L355.35 330.19 L356.05 330.19 L356.76 330.19 L357.46 330.19 L358.16 330.19 L358.86 330.19 L359.56 330.19 L360.27 330.20 L360.97 330.20 L361.67 330.20 L362.37 330.20 L363.07 330.20 L363.78 330.20 L364.48 330.20 L365.18 330.20 L365.88 330.20 L366.58 330.20 L367.29 330.20 L367.99 330.20 L368.69 330.20 L369.39 330.20 L370.10 330.20 L370.80 330.20 L371.50 330.20" stroke="#0000ff"/>
<path d="M80.50 365.00 L81.20 365.00 L81.91 365.00 L82.61 365.00 L83.32 365.00 L84.02 365.00 L84.72 365.00 L85.43 365.00 L86.13 365.00 L86.84 365.00 L87.54 365.00 L88.24 365.00 L88.95 365.00 L89.65 365.00 L90.36 365.00 L91.06 365.00 L91.76 365.00 L92.47 365.00 L93.17 365.00 L93.88 365.00 L94.58 365.00 L95.28 365.00 L95.99 365.00 L96.69 365.00 L97.40 365.00 L98.10 364.99 L98.80 364.99 L99.51 364.99 L100.21 364.99 L100.92 364.99 L101.62 364.99 L102.32 364.99 L103.03 364.99 L103.73 364.99 L104.44 364.99 L105.14 364.99 L105.84 364.99 L106.55 364.99 L107.25 364.99 L107.96 364.99 L108.66 364.99 L109.36 364.98 L110.07 364.98 L110.77 364.98 L111.47 364.98 L112.18 364.98 L112.88 364.98 L113.59 364.98 L114.29 364.98 L114.99 364.98 L115.70 364.98 L116.40 364.98 L117.11 364.98 L117.81 364.97 L118.51 364.97 L119.22 364.97 L119.92 364.97 L120.63 364.97 L121.33 364.97 L122.03 364.97 L122.74 364.97 L123.44 364.97 L124.15 364.96 L124.85 364.96 L125.55 364.96 L126.26 364.96 L126.96 364.96 L127.66 364.96 L128.37 364.96 L129.07 364.95 L129.78 364.95 L130.48 364.95 L131.18 364.95 L131.89 364.95 L132.59 364.95 L133.30 364.95 L134.00 364.94 L134.70 364.94 L135.41 364.94 L136.11 364.94 L136.81 364.94 L137.52 364.94 L138.22 364.93 L138.93 364.93 L139.63 364.93 L140.33 364.93 L141.04 364.93 L141.74 364.92 L142.45 364.92 L143.15 364.92 L143.85 364.92 L144.56 364.92 L145.26 364.91 L145.96 364.91 L146.67 364.91 L147.37 364.91 L148.08 364.91 L148.78 364.90 L149.48 364.90 L150.19 364.90 L150.89 364.90 L151.60 364.89 L152.30 364.89 L153.00 364.88 L153.71 364.87 L154.41 364.86 L155.12 364.86 L155.82 364.84 L156.52 364.83 L157.23 364.82 L157.93 364.81 L158.63 364.80 L159.34 364.78 L160.04 364.77 L160.75 364.75 L161.45 364.73 L162.15 364.72 L162.86 364.70 L163.56 364.68 L164.27 364.66 L164.97 364.64 L165.67 364.63 L166.38 364.61 L167.08 364.59 L167.78 364.57 L168.49 364.54 L169.19 364.52 L169.89 364.50 L170.60 364.48 L171.30 364.46 L172.00 364.43 L172.71 364.41 L173.41 364.38 L174.12 364.34 L174.82 364.31 L175.52 364.28 L176.23 364.24 L176.93 364.20 L177.63 364.16 L178.33 364.11 L179.04 364.07 L179.74 364.02 L180.44 363.97 L181.14 363.91 L181.84 363.84 L182.54 363.77 L183.24 363.69 L183.94 363.60 L184.64 363.51 L185.34 363.41 L186.04 363.31 L186.73 363.21 L187.42 363.10 L188.12 362.98 L188.82 362.86 L189.53 362.73 L190.23 362.59 L190.93 362.44 L191.62 362.27 L192.30 362.09 L192.95 361.89 L193.59 361.67 L194.22 361.39 L194.83 361.04 L195.43 360.64 L196.02 360.21 L196.57 359.76 L197.10 359.29 L197.60 358.82 L198.08 358.30 L198.54 357.75 L198.97 357.18 L199.37 356.59 L199.71 356.00 L200.03 355.38 L200.33 354.74 L200.61 354.09 L200.87 353.42 L201.11 352.75 L201.34 352.09 L201.56 351.42 L201.77 350.75 L201.97 350.07 L202.16 349.39 L202.34 348.71 L202.50 348.02 L202.64 347.33 L202.76 346.64 L202.87 345.95 L202.97 345.25 L203.07 344.56 L203.15 343.86 L203.24 343.16 L203.32 342.46 L203.39 341.75 L203.47 341.05 L203.55 340.35 L203.62 339.65 L203.69 338.95 L203.76 338.25 L203.83 337.55 L203.90 336.85 L203.96 336.15 L204.03 335.45 L204.10 334.75 L204.16 334.05 L204.24 333.35 L204.31 332.65 L204.38 331.95 L204.46 331.25 L204.53 330.55 L204.60 329.85 L204.66 329.15 L204.72 328.44 L204.78 327.74 L204.82 327.04 L204.87 326.34 L204.92 325.64 L204.96 324.93 L205.00 324.23 L205.04 323.53 L205.08 322.82 L205.11 322.12 L205.14 321.42 L205.17 320.71 L205.20 320.01 L205.22 319.31 L205.25 318.61 L205.27 317.90 L205.29 317.20 L205.31 316.49 L205.33 315.79 L205.35 315.09 L205.37 314.38 L205.38 313.68 L205.40 312.98 L205.42 312.27 L205.43 311.57 L205.45 310.87 L205.46 310.16 L205.48 309.46 L205.49 308.75 L205.50 308.05 L205.52 307.35 L205.53 306.64 L205.54 305.94 L205.56 305.23 L205.57 304.53 L205.59 303.83 L205.60 303.12 L205.61 302.42 L205.63 301.71 L205.64 301.01 L205.66 300.31 L205.68 299.60 L205.69 298.90 L205.71 298.20 L205.73 297.49 L205.75 296.79 L205.77 296.08 L205.79 295.38 L205.81 294.68 L205.83 293.97 L205.86 293.27 L205.88 292.57 L205.90 291.86 L205.93 291.16 L205.95 290.46 L205.98 289.75 L206.01 289.05 L206.03 288.35 L206.06 287.64 L206.09 286.94 L206.12 286.24 L206.14 285.53 L206.17 284.83 L206.20 284.13 L206.23 283.42 L206.26 282.72 L206.29 282.02 L206.33 281.31 L206.36 280.61 L206.39 279.91 L206.42 279.20 L206.46 278.50 L206.49 277.80 L206.53 277.09 L206.56 276.39 L206.60 275.69 L206.63 274.98 L206.67 274.28 L206.71 273.58 L206.74 272.87 L206.78 272.17 L206.82 271.47 L206.86 270.77 L206.90 270.06 L206.94 269.36 L206.98 268.66 L207.02 267.96 L207.06 267.25 L207.10 266.55 L207.14 265.85 L207.18 265.15 L207.23 264.44 L207.27 263.74 L207.32 263.04 L207.37 262.34 L207.41 261.63 L207.46 260.93 L207.52 260.23 L207.57 259.53 L207.62 258.83 L207.67 258.13 L207.73 257.42 L207.78 256.72 L207.84 256.02 L207.90 255.32 L207.96 254.62 L208.01 253.91 L208.07 253.21 L208.13 252.51 L208.19 251.81 L208.26 251.11 L208.32 250.41 L208.38 249.71 L208.44 249.00 L208.51 248.30 L208.57 247.60 L208.64 246.90 L208.70 246.20 L208.76 246.90 L208.82 247.60 L208.88 248.30 L208.94 249.00 L209.00 249.70 L209.06 250.40 L209.12 251.10 L209.18 251.80 L209.23 252.50 L209.29 253.20 L209.35 253.90 L209.41 254.60 L209.47 255.30 L209.52 256.00 L209.58 256.70 L209.64 257.40 L209.69 258.10 L209.75 258.81 L209.80 259.51 L209.86 260.21 L209.91 260.91 L209.97 261.61 L210.02 262.31 L210.08 263.01 L210.13 263.71 L210.18 264.41 L210.23 265.11 L210.28 265.81 L210.33 266.51 L210.38 267.22 L210.42 267.92 L210.47 268.62 L210.52 269.32 L210.56 270.02 L210.61 270.72 L210.65 271.42 L210.70 272.13 L210.75 272.83 L210.79 273.53 L210.84 274.23 L210.89 274.93 L210.94 275.63 L210.99 276.33 L211.04 277.03 L211.09 277.73 L211.14 278.44 L211.19 279.14 L211.25 279.84 L211.30 280.54 L211.36 281.24 L211.42 281.94 L211.48 282.64 L211.54 283.34 L211.60 284.03 L211.67 284.73 L211.73 285.43 L211.80 286.13 L211.87 286.84 L211.94 287.54 L212.00 288.24 L212.08 288.94 L212.15 289.64 L212.22 290.34 L212.30 291.04 L212.38 291.75 L212.45 292.45 L212.54 293.15 L212.62 293.85 L212.71 294.54 L212.80 295.24 L212.89 295.94 L212.98 296.64 L213.08 297.33 L213.18 298.03 L213.29 298.72 L213.40 299.41 L213.51 300.10 L213.62 300.79 L213.74 301.48 L213.87 302.16 L214.00 302.85 L214.14 303.54 L214.29 304.23 L214.45 304.93 L214.62 305.62 L214.80 306.31 L214.99 307.00 L215.18 307.68 L215.39 308.36 L215.60 309.04 L215.82 309.71 L216.05 310.37 L216.29 311.03 L216.54 311.68 L216.80 312.31 L217.06 312.94 L217.35 313.57 L217.66 314.20 L218.00 314.84 L218.36 315.47 L218.74 316.09 L219.14 316.70 L219.56 317.29 L220.00 317.86 L220.45 318.40 L220.91 318.91 L221.38 319.38 L221.86 319.82 L222.39 320.26 L222.94 320.68 L223.53 321.08 L224.13 321.47 L224.76 321.85 L225.40 322.20 L226.05 322.53 L226.70 322.84 L227.35 323.11 L227.99 323.36 L228.63 323.59 L229.28 323.80 L229.93 324.02 L230.59 324.22 L231.26 324.42 L231.93 324.61 L232.60 324.80 L233.28 324.98 L233.97 325.15 L234.65 325.32 L235.34 325.48 L236.04 325.64 L236.73 325.79 L237.43 325.94 L238.13 326.08 L238.83 326.21 L239.53 326.34 L240.23 326.47 L240.94 326.59 L241.64 326.71 L242.34 326.82 L243.04 326.92 L243.74 327.03 L244.43 327.12 L245.12 327.22 L245.82 327.31 L246.51 327.40 L247.20 327.48 L247.90 327.57 L248.60 327.66 L249.29 327.74 L249.99 327.82 L250.69 327.90 L251.39 327.98 L252.08 328.05 L252.78 328.13 L253.48 328.20 L254.18 328.27 L254.88 328.34 L255.58 328.41 L256.29 328.47 L256.99 328.54 L257.69 328.60 L258.39 328.66 L259.09 328.72 L259.80 328.78 L260.50 328.83 L261.20 328.88 L261.90 328.94 L262.60 328.98 L263.31 329.03 L264.01 329.08 L264.71 329.12 L265.41 329.16 L266.11 329.20 L266.82 329.24 L267.52 329.28 L268.22 329.31 L268.92 329.34 L269.62 329.38 L270.32 329.41 L271.02 329.44 L271.73 329.47 L272.43 329.50 L273.13 329.53 L273.83 329.56 L274.53 329.59 L275.23 329.62 L275.94 329.65 L276.64 329.68 L277.34 329.70 L278.04 329.73 L278.75 329.76 L279.45 329.78 L280.15 329.81 L280.85 329.83 L281.56 329.85 L282.26 329.88 L282.96 329.90 L283.66 329.92 L284.37 329.95 L285.07 329.97 L285.77 329.99 L286.47 330.01 L287.18 330.03 L287.88 330.05 L288.58 330.07 L289.28 330.09 L289.99 330.10 L290.69 330.12 L291.39 330.14 L292.10 330.15 L292.80 330.17 L293.50 330.18 L294.20 330.20 L294.91 330.21 L295.61 330.23 L296.31 330.24 L297.02 330.25 L297.72 330.26 L298.42 330.28 L299.12 330.29 L299.83 330.30 L300.53 330.31 L301.23 330.32 L301.93 330.33 L302.64 330.34 L303.34 330.35 L304.04 330.36 L304.74 330.37 L305.45 330.38 L306.15 330.39 L306.85 330.40 L307.55 330.40 L308.26 330.41 L308.96 330.42 L309.66 330.43 L310.36 330.44 L311.07 330.45 L311.77 330.46 L312.47 330.47 L313.17 330.48 L313.88 330.49 L314.58 330.50 L315.28 330.51 L315.98 330.51 L316.69 330.52 L317.39 330.53 L318.09 330.54 L318.79 330.55 L319.50 330.56 L320.20 330.57 L320.90 330.57 L321.61 330.58 L322.31 330.59 L323.01 330.60 L323.71 330.61 L324.42 330.61 L325.12 330.62 L325.82 330.63 L326.52 330.64 L327.23 330.64 L327.93 330.65 L328.63 330.66 L329.33 330.67 L330.04 330.67 L330.74 330.68 L331.44 330.69 L332.14 330.69 L332.85 330.70 L333.55 330.71 L334.25 330.71 L334.96 330.72 L335.66 330.73 L336.36 330.73 L337.06 330.74 L337.77 330.75 L338.47 330.75 L339.17 330.76 L339.87 330.76 L340.58 330.77 L341.28 330.77 L341.98 330.78 L342.68 330.79 L343.39 330.79 L344.09 330.80 L344.79 330.80 L345.50 330.81 L346.20 330.81 L346.90 330.82 L347.60 330.82 L348.31 330.82 L349.01 330.83 L349.71 330.83 L350.42 330.84 L351.12 330.84 L351.82 330.84 L352.52 330.85 L353.23 330.85 L353.93 330.86 L354.63 330.86 L355.33 330.86 L356.04 330.87 L356.74 330.87 L357.44 330.87 L358.15 330.87 L358.85 330.88 L359.55 330.88 L360.25 330.88 L360.96 330.88 L361.66 330.89 L362.36 330.89 L363.07 330.89 L363.77 330.89 L364.47 330.89 L365.17 330.89 L365.88 330.90 L366.58 330.90 L367.28 330.90 L367.99 330.90 L368.69 330.90 L369.39 330.90 L370.09 330.90 L370.80 330.90 L371.50 330.90" stroke="#ff0000"/>
</g>
<g stroke="#222" stroke-width="1" fill="none">
<path d="M371.75 365.00 h-6.80"/>
<path d="M80.50 297.30 h6.80"/>
<path d="M371.75 297.30 h-6.80"/>
<path d="M80.50 229.60 h6.80"/>
<path d="M371.75 229.60 h-6.80"/>
<path d="M80.50 161.90 h6.80"/>
<path d="M371.75 161.90 h-6.80"/>
<path d="M80.50 94.20 h6.80"/>
<path d="M371.75 94.20 h-6.80"/>
<path d="M80.50 26.50 h6.80"/>
<path d="M371.75 26.50 h-6.80"/>
<path d="M177.58 366.10 v-6.80 M177.58 19.40 v6.80"/>
<path d="M274.67 366.10 v-6.80 M274.67 19.40 v6.80"/>
</g>
<g fill="none" stroke-width="1.4">
<path d="M91.2 75.0 H105.5" stroke="#0000ff" stroke-width="1.6" stroke-dasharray="2.4 4.9"/>
<path d="M91.2 95.7 H105.5" stroke="#ff0000" stroke-width="1.6" stroke-dasharray="2.4 4.9"/>
<path d="M91.4 116.3 H105.5" stroke="#0000ff"/>
<path d="M91.4 136.8 H105.5" stroke="#ff0000"/>
</g>
<g font-family="'Liberation Serif', serif" fill="#000" stroke="#fff" stroke-width="0.1">
<text x="31.60" y="370.75" font-size="20.5" textLength="36.00" lengthAdjust="spacingAndGlyphs" >0.00</text>
<text x="31.60" y="303.05" font-size="20.5" textLength="36.00" lengthAdjust="spacingAndGlyphs" >0.20</text>
<text x="31.60" y="235.35" font-size="20.5" textLength="36.00" lengthAdjust="spacingAndGlyphs" >0.40</text>
<text x="31.60" y="167.65" font-size="20.5" textLength="36.00" lengthAdjust="spacingAndGlyphs" >0.60</text>
<text x="31.60" y="99.95" font-size="20.5" textLength="36.00" lengthAdjust="spacingAndGlyphs" >0.80</text>
<text x="31.60" y="32.25" font-size="20.5" textLength="36.00" lengthAdjust="spacingAndGlyphs" >1.00</text>
<text x="67.15" y="392.70" font-size="20.5" textLength="25.90" lengthAdjust="spacingAndGlyphs" >8.5</text>
<text x="164.23" y="392.70" font-size="20.5" textLength="25.90" lengthAdjust="spacingAndGlyphs" >9.0</text>
<text x="261.32" y="392.70" font-size="20.5" textLength="25.90" lengthAdjust="spacingAndGlyphs" >9.5</text>
<text x="353.40" y="392.70" font-size="20.5" textLength="35.90" lengthAdjust="spacingAndGlyphs" >10.0</text>
<text x="226.50" y="233.40" font-size="19.4" textLength="120.00" lengthAdjust="spacingAndGlyphs" >bottomonium</text>
<text x="300.80" y="354.80" font-size="19.5" font-style="italic" textLength="14.20" lengthAdjust="spacingAndGlyphs" >ω</text>
<text x="316.00" y="355.90" font-size="22.8" textLength="6.00" lengthAdjust="spacingAndGlyphs" >[</text>
<text x="321.30" y="354.80" font-size="20" textLength="40.00" lengthAdjust="spacingAndGlyphs" >GeV</text>
<text x="359.60" y="355.90" font-size="22.8" textLength="6.00" lengthAdjust="spacingAndGlyphs" >]</text>
<text x="117.80" y="80.80" font-size="19.2" font-style="italic" textLength="11.00" lengthAdjust="spacingAndGlyphs" >x</text>
<path d="M130.10 73.80 h13.60 M130.10 77.50 h13.60" stroke="#444" stroke-width="0.8" fill="none"/>
<text x="145.00" y="80.80" font-size="19.3" textLength="35.60" lengthAdjust="spacingAndGlyphs" >pert</text>
<text x="182.60" y="80.80" font-size="20" textLength="5.40" lengthAdjust="spacingAndGlyphs" >,</text>
<text x="195.40" y="80.80" font-size="20" textLength="14.20" lengthAdjust="spacingAndGlyphs" >T</text>
<path d="M210.60 73.80 h14.00 M210.60 77.50 h14.00" stroke="#444" stroke-width="0.8" fill="none"/>
<text x="225.70" y="80.80" font-size="20" textLength="30.40" lengthAdjust="spacingAndGlyphs" >220</text>
<text x="263.20" y="80.80" font-size="20" textLength="41.30" lengthAdjust="spacingAndGlyphs" >MeV</text>
<text x="117.80" y="101.20" font-size="19.2" font-style="italic" textLength="11.00" lengthAdjust="spacingAndGlyphs" >x</text>
<path d="M130.10 94.20 h13.60 M130.10 97.90 h13.60" stroke="#444" stroke-width="0.8" fill="none"/>
<text x="145.00" y="101.20" font-size="19.3" textLength="35.60" lengthAdjust="spacingAndGlyphs" >pert</text>
<text x="182.60" y="101.20" font-size="20" textLength="5.40" lengthAdjust="spacingAndGlyphs" >,</text>
<text x="195.40" y="101.20" font-size="20" textLength="14.20" lengthAdjust="spacingAndGlyphs" >T</text>
<path d="M210.60 94.20 h14.00 M210.60 97.90 h14.00" stroke="#444" stroke-width="0.8" fill="none"/>
<text x="225.70" y="101.20" font-size="20" textLength="30.40" lengthAdjust="spacingAndGlyphs" >251</text>
<text x="263.20" y="101.20" font-size="20" textLength="41.30" lengthAdjust="spacingAndGlyphs" >MeV</text>
<text x="117.80" y="121.60" font-size="19.2" font-style="italic" textLength="11.00" lengthAdjust="spacingAndGlyphs" >x</text>
<path d="M130.10 114.60 h13.60 M130.10 118.30 h13.60" stroke="#444" stroke-width="0.8" fill="none"/>
<text x="145.20" y="121.60" font-size="19.3" textLength="39.20" lengthAdjust="spacingAndGlyphs" >mod</text>
<text x="185.00" y="121.60" font-size="20" textLength="5.40" lengthAdjust="spacingAndGlyphs" >,</text>
<text x="197.70" y="121.60" font-size="20" textLength="14.20" lengthAdjust="spacingAndGlyphs" >T</text>
<path d="M212.90 114.60 h14.00 M212.90 118.30 h14.00" stroke="#444" stroke-width="0.8" fill="none"/>
<text x="228.00" y="121.60" font-size="20" textLength="30.40" lengthAdjust="spacingAndGlyphs" >220</text>
<text x="265.50" y="121.60" font-size="20" textLength="41.30" lengthAdjust="spacingAndGlyphs" >MeV</text>
<text x="117.80" y="142.20" font-size="19.2" font-style="italic" textLength="11.00" lengthAdjust="spacingAndGlyphs" >x</text>
<path d="M130.10 135.20 h13.60 M130.10 138.90 h13.60" stroke="#444" stroke-width="0.8" fill="none"/>
<text x="145.20" y="142.20" font-size="19.3" textLength="39.20" lengthAdjust="spacingAndGlyphs" >mod</text>
<text x="185.00" y="142.20" font-size="20" textLength="5.40" lengthAdjust="spacingAndGlyphs" >,</text>
<text x="197.70" y="142.20" font-size="20" textLength="14.20" lengthAdjust="spacingAndGlyphs" >T</text>
<path d="M212.90 135.20 h14.00 M212.90 138.90 h14.00" stroke="#444" stroke-width="0.8" fill="none"/>
<text x="228.00" y="142.20" font-size="20" textLength="30.40" lengthAdjust="spacingAndGlyphs" >251</text>
<text x="265.50" y="142.20" font-size="20" textLength="41.30" lengthAdjust="spacingAndGlyphs" >MeV</text>
<text x="89.30" y="49.30" font-size="18.5" font-style="italic" textLength="9.00" lengthAdjust="spacingAndGlyphs" stroke-width="0.1">ρ</text>
<text x="100.00" y="41.90" font-size="14" font-style="italic" textLength="8.00" lengthAdjust="spacingAndGlyphs" stroke="none" >x</text>
<text x="101.00" y="55.80" font-size="15.5" font-style="italic" textLength="21.30" lengthAdjust="spacingAndGlyphs" stroke="#fff" stroke-width="0.2">PS</text>
<text x="125.20" y="49.60" font-size="22.5" textLength="5.00" lengthAdjust="spacingAndGlyphs" >(</text>
<text x="131.30" y="49.30" font-size="19" font-style="italic" textLength="13.80" lengthAdjust="spacingAndGlyphs" >ω</text>
<text x="146.90" y="49.60" font-size="22.5" textLength="5.00" lengthAdjust="spacingAndGlyphs" >)</text>
<path d="M155.0 54.4 L163.1 34.4" stroke="#000" stroke-width="0.95" fill="none"/>
<text x="163.90" y="49.30" font-size="19" font-style="italic" textLength="13.40" lengthAdjust="spacingAndGlyphs" >ω</text>
<text x="178.50" y="42.00" font-size="14" textLength="7.00" lengthAdjust="spacingAndGlyphs" stroke="none" >2</text>
<text x="186.30" y="49.30" font-size="19.5" font-style="italic" textLength="17.50" lengthAdjust="spacingAndGlyphs" >m</text>
<text x="205.00" y="42.00" font-size="14" textLength="7.00" lengthAdjust="spacingAndGlyphs" stroke="none" >2</text>
<text x="215.50" y="49.60" font-size="22.5" textLength="5.00" lengthAdjust="spacingAndGlyphs" >(</text>
<text x="222.00" y="49.70" font-size="16.5" font-style="italic" textLength="12.30" lengthAdjust="spacingAndGlyphs" stroke="none" >μ</text>
<path d="M225 38.6 h7" stroke="#000" stroke-width="0.8"/>
<text x="234.00" y="52.10" font-size="14.5" font-style="italic" textLength="7.00" lengthAdjust="spacingAndGlyphs" stroke="none" >r</text>
<text x="243.30" y="52.10" font-size="14.5" font-style="italic" textLength="6.80" lengthAdjust="spacingAndGlyphs" stroke="none" >e</text>
<text x="252.60" y="52.10" font-size="16.5" font-style="italic" stroke="none" >f</text>
<text x="261.80" y="49.60" font-size="22.5" textLength="5.00" lengthAdjust="spacingAndGlyphs" >)</text>
</g>
</svg>
</body></html>
